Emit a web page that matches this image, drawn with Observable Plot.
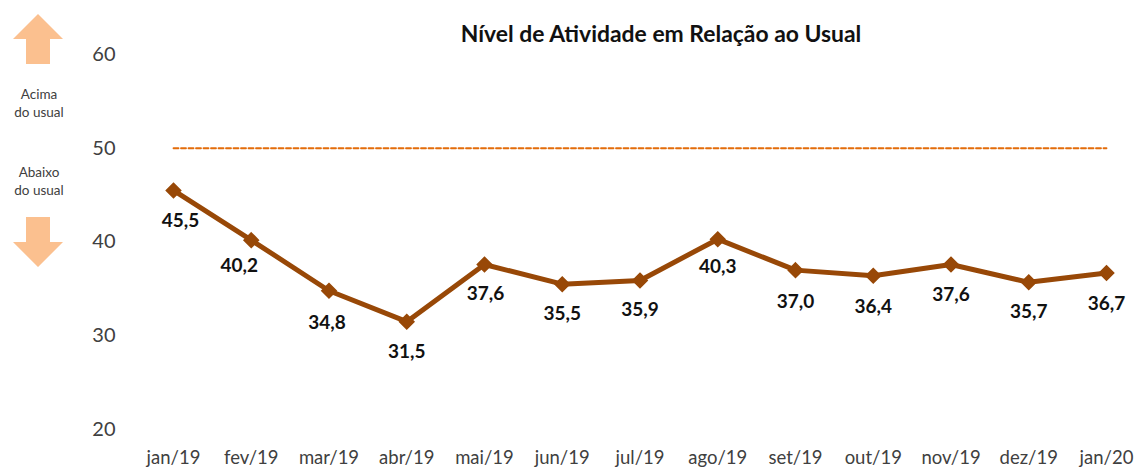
<!DOCTYPE html>
<html><head><meta charset="utf-8">
<script src="https://cdn.jsdelivr.net/npm/d3@7"></script>
<script src="https://cdn.jsdelivr.net/npm/@observablehq/plot@0.6"></script>
<style>
html,body{margin:0;padding:0;background:#fff;overflow:hidden}
#wrap{position:relative;width:1137px;height:467px;font-family:Lato,sans-serif}
#wrap svg{position:absolute;left:0;top:0}
.t{position:absolute;text-align:center;color:#404040}
#title{left:361px;width:600px;top:19px;font-size:22.9px;font-weight:700;color:#111;line-height:28px}
.side{left:0;width:78px;font-size:13.5px;line-height:18px}
</style></head><body>
<div id="wrap"></div>
<script>
const months = ["jan/19","fev/19","mar/19","abr/19","mai/19","jun/19","jul/19","ago/19","set/19","out/19","nov/19","dez/19","jan/20"];
const values = [45.5,40.2,34.8,31.5,37.6,35.5,35.9,40.3,37.0,36.4,37.6,35.7,36.7];
const yTicks = [20,30,40,50,60];
const reference = 50;
const labelDx = [7,-12,-2,0,1,0,0,0,0,0,0,0,0];
const labelDy = [30,26,32,30,29,30,29,28,32,31,30,30,31];

const fmt = v => v.toFixed(1).replace(".",",");
const rows = months.map((m,i)=>({m,v:values[i],dx:labelDx[i],dy:labelDy[i]}));
const brown = "#984807";

const chart = Plot.plot({
  width:1137,height:467,
  marginLeft:115,marginRight:0,marginTop:0,marginBottom:24,
  style:{fontFamily:"Lato,sans-serif",background:"transparent"},
  x:{type:"point",domain:months,range:[173,1106],padding:0,round:false,label:null},
  y:{domain:[20,60],range:[429,54],label:null},
  marks:[
    Plot.axisY({ticks:yTicks,tickSize:0,tickPadding:0,fontSize:20,fill:"#404040",label:null}),
    Plot.axisX({tickSize:0,tickPadding:7,fontSize:18.5,fill:"#404040",label:null}),
    Plot.line([months[0],months[months.length-1]],{x:d=>d,y:()=>reference,stroke:"#E36C0A",strokeWidth:1.8,strokeDasharray:"5,2.5"}),
    Plot.line(rows,{x:"m",y:"v",stroke:brown,strokeWidth:5}),
    Plot.dot(rows,{x:"m",y:"v",symbol:"diamond2",r:6.5,fill:brown,stroke:brown}),
    ...rows.map(d=>Plot.text([d],{x:"m",y:"v",text:r=>fmt(r.v),dx:d.dx,dy:d.dy,fontSize:19,fontWeight:700,fill:"#111"}))
  ]
});
const wrap = document.getElementById("wrap");
wrap.appendChild(chart);
wrap.insertAdjacentHTML("beforeend",`
<div class="t" id="title">Nível de Atividade em Relação ao Usual</div>
<svg width="80" height="280" style="pointer-events:none">
  <path d="M38 14 L63 39 L50 39 L50 64 L26 64 L26 39 L13 39 Z" fill="#FBC08F"/>
  <path d="M26 217 L50 217 L50 242 L63 242 L38 267 L13 242 L26 242 Z" fill="#FBC08F"/>
</svg>
<div class="t side" style="top:85px">Acima<br>do usual</div>
<div class="t side" style="top:163px">Abaixo<br>do usual</div>`);
</script>
</body></html>
